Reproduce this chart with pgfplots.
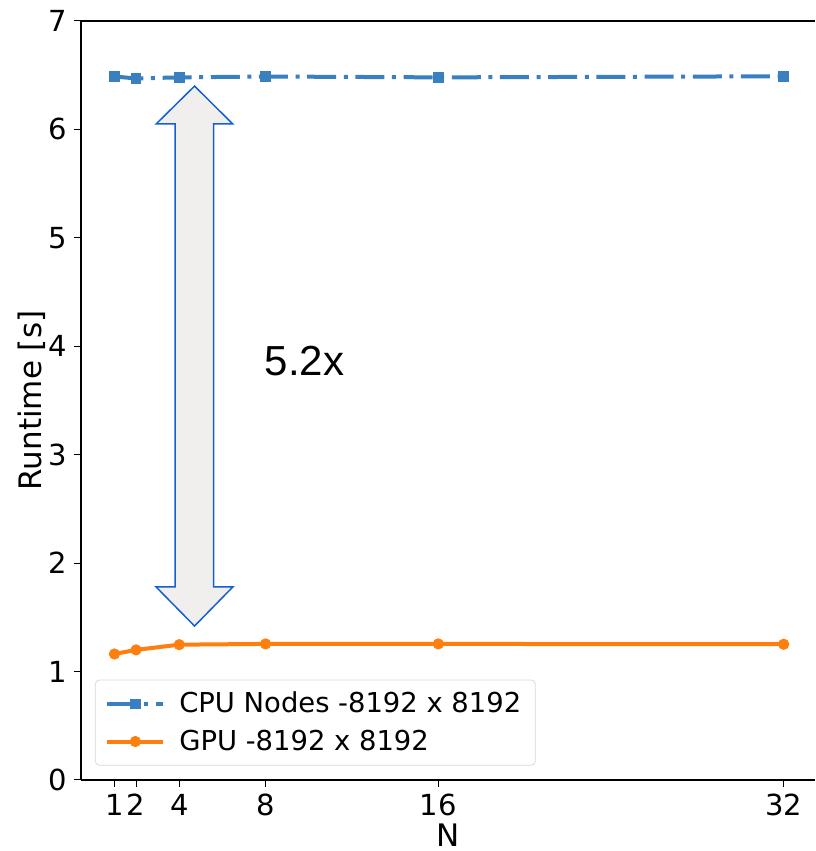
\documentclass[border=0pt]{standalone}
\usepackage{fontspec}
\setmainfont{DejaVu Sans}
\newfontfamily\arialfont{Liberation Sans}
\usepackage{pgfplots}
\pgfplotsset{compat=1.18}
\definecolor{cpublue}{RGB}{58,128,192}
\definecolor{gpuorange}{RGB}{255,127,14}
\definecolor{arrowblue}{RGB}{21,96,208}
\definecolor{arrowfill}{RGB}{240,239,238}

\begin{document}
\begin{tikzpicture}
\begin{axis}[
  width=367pt, height=379.5pt, scale only axis,
  xmin=-0.55, xmax=33.45, ymin=0, ymax=7,
  xtick={1,2,4,8,16,32}, ytick={0,1,2,3,4,5,6,7},
  axis y line*=left, y axis line style={-},
  tick pos=left, tick align=outside, major tick length=3.5pt,
  tick style={black, line width=0.5pt},
  axis line style={line width=0.6pt},
  /pgf/number format/assume math mode=true,
  tick label style={font=\fontsize{14.5}{17}\selectfont},
  xlabel={N}, ylabel={Runtime [s]},
  label style={font=\fontsize{15.5}{18}\selectfont},
  ylabel style={at={(axis description cs:-0.067,0.5)}, anchor=center},
  xlabel style={at={(axis description cs:0.5,-0.0875)}, anchor=base},
  legend style={at={(0.019,0.019)}, anchor=south west, draw=black!15,
    rounded corners=2pt, font=\fontsize{13.7}{16}\selectfont,
    row sep=3pt, inner xsep=5pt, inner ysep=4pt,
    /tikz/every odd column/.append style={column sep=5pt}},
  legend cell align=left,
  legend image code/.code={\draw[mark repeat=2,mark phase=2]
    plot coordinates {(0pt,0pt) (14pt,0pt) (28pt,0pt)};},
]
\coordinate (sw) at (rel axis cs:0,0);
\coordinate (ne) at (rel axis cs:1,1);
\addplot[cpublue, line width=2pt, mark=square*, mark size=2.4pt,
  mark options={solid, line width=0.5pt}, dash pattern=on 14.5pt off 3.8pt on 2pt off 3.8pt]
  coordinates {(1,6.488) (2,6.47) (4,6.48) (8,6.488) (16,6.48) (32,6.49)};
\addlegendentry{CPU Nodes -8192 x 8192}
\addplot[gpuorange, line width=2pt, mark=*, mark size=2.6pt,
  mark options={line width=0.4pt}]
  coordinates {(1,1.162) (2,1.20) (4,1.248) (8,1.255) (16,1.255) (32,1.252)};
\addlegendentry{GPU -8192 x 8192}
\draw[arrowblue, fill=arrowfill, line width=0.75pt, line join=miter]
  (axis cs:4.71,6.40) -- (axis cs:6.48,6.05) -- (axis cs:5.59,6.05)
  -- (axis cs:5.59,1.78) -- (axis cs:6.48,1.78) -- (axis cs:4.71,1.42)
  -- (axis cs:2.93,1.78) -- (axis cs:3.81,1.78) -- (axis cs:3.81,6.05)
  -- (axis cs:2.93,6.05) -- cycle;
\node[font=\arialfont\fontsize{21}{25}\selectfont] at (axis cs:9.81,3.86) {5.2x};
\end{axis}
\pgfresetboundingbox
\path ([shift={(-40.5pt,-35.5pt)}]sw) rectangle ([shift={(0pt,10.5pt)}]ne);
\end{tikzpicture}
\end{document}
